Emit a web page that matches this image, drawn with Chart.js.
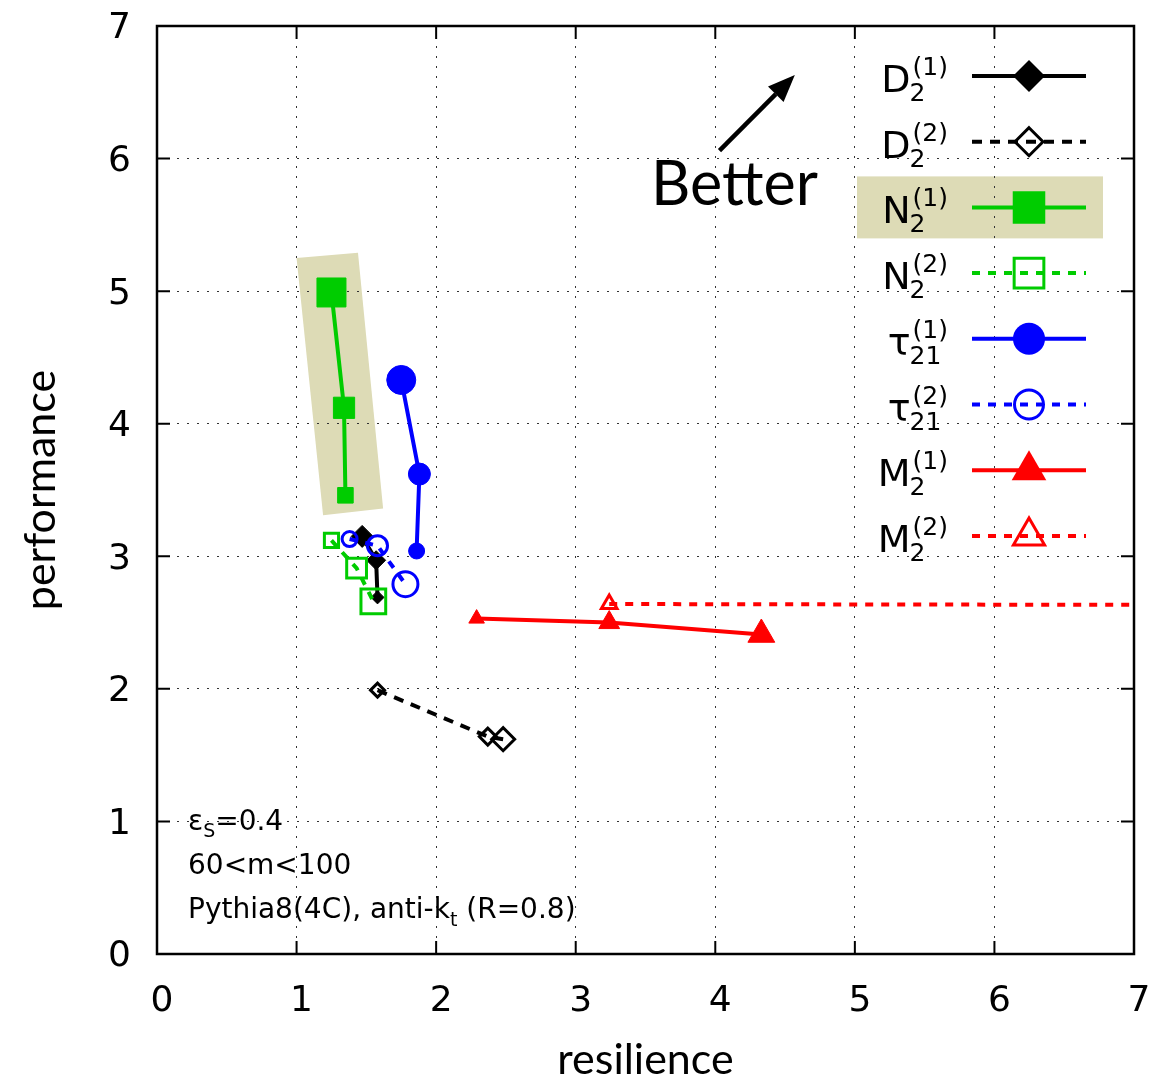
<!DOCTYPE html>
<html>
<head>
<meta charset="utf-8">
<script src="https://cdn.jsdelivr.net/npm/chart.js@4.4.1/dist/chart.umd.min.js"></script>
<style>
  html, body { margin: 0; padding: 0; background: #fff; }
  #wrap { width: 1173px; height: 1082px; }
</style>
</head>
<body>
<div id="wrap"><canvas id="chart" width="1173" height="1082"></canvas></div>
<script>
// Axis ticks
const xTicks = [0, 1, 2, 3, 4, 5, 6, 7];
const yTicks = [0, 1, 2, 3, 4, 5, 6, 7];

// Series values (resilience, performance)
const d2aX = [1.47, 1.57, 1.58];
const d2aY = [3.15, 2.97, 2.69];
const d2bX = [1.58, 2.37, 2.48];
const d2bY = [1.99, 1.64, 1.62];
const n2aX = [1.25, 1.34, 1.35];
const n2aY = [4.99, 4.12, 3.46];
const n2bX = [1.25, 1.43, 1.55];
const n2bY = [3.12, 2.91, 2.66];
const t21aX = [1.75, 1.88, 1.86];
const t21aY = [4.33, 3.62, 3.04];
const t21bX = [1.38, 1.58, 1.78];
const t21bY = [3.13, 3.08, 2.79];
const m2aX = [2.29, 3.24, 4.33];
const m2aY = [2.53, 2.50, 2.41];
const m2bX = [3.24, 9.0, 12.0];
const m2bY = [2.64, 2.63, 2.63];

// Highlight band around N2(1), in data coordinates
const boxX = [1.00, 1.44, 1.62, 1.19];
const boxY = [5.25, 5.29, 3.36, 3.31];

const HILITE = '#dddbb6';
const FONT = '"DejaVu Sans", sans-serif';
const TITLE_FONT = 'Lato, "Open Sans", sans-serif';

// Series styles
const series = [
    { main: 'D', sub: '2', sup: '(1)', xs: d2aX, ys: d2aY, color: '#000000', shape: 'rectRot', filled: true, dash: [], radii: [11, 9.5, 6.5], legR: 16 },
    { main: 'D', sub: '2', sup: '(2)', xs: d2bX, ys: d2bY, color: '#000000', shape: 'rectRot', filled: false, dash: [10, 8], radii: [7, 8.5, 11.5], legR: 14 },
    { main: 'N', sub: '2', sup: '(1)', xs: n2aX, ys: n2aY, color: '#00cc00', shape: 'rect', filled: true, dash: [], radii: [20.5, 15, 11], legR: 23 },
    { main: 'N', sub: '2', sup: '(2)', xs: n2bX, ys: n2bY, color: '#00cc00', shape: 'rect', filled: false, dash: [8, 8], radii: [10, 14, 17.5], legR: 21 },
    { main: 'τ', sub: '21', sup: '(1)', xs: t21aX, ys: t21aY, color: '#0000ff', shape: 'circle', filled: true, dash: [], radii: [14.5, 11, 8], legR: 16 },
    { main: 'τ', sub: '21', sup: '(2)', xs: t21bX, ys: t21bY, color: '#0000ff', shape: 'circle', filled: false, dash: [8, 8], radii: [7.5, 10, 12.5], legR: 14.5 },
    { main: 'M', sub: '2', sup: '(1)', xs: m2aX, ys: m2aY, color: '#ff0000', shape: 'triangle', filled: true, dash: [], radii: [9, 12, 15.5], legR: 20 },
    { main: 'M', sub: '2', sup: '(2)', xs: m2bX, ys: m2bY, color: '#ff0000', shape: 'triangle', filled: false, dash: [8, 8], radii: [9, 9, 9], legR: 18 }
];

// Marker for the key
function drawMarker(ctx, shape, cx, cy, r, filled, color) {
    ctx.beginPath();
    if (shape === 'circle') {
        ctx.arc(cx, cy, r, 0, Math.PI * 2);
    } else if (shape === 'rect') {
        const h = r * Math.SQRT1_2;
        ctx.rect(cx - h, cy - h, 2 * h, 2 * h);
    } else if (shape === 'rectRot') {
        ctx.moveTo(cx, cy - r); ctx.lineTo(cx + r, cy);
        ctx.lineTo(cx, cy + r); ctx.lineTo(cx - r, cy);
        ctx.closePath();
    } else {
        const s = Math.sin(Math.PI / 3) * r;
        ctx.moveTo(cx, cy - r); ctx.lineTo(cx + s, cy + r / 2);
        ctx.lineTo(cx - s, cy + r / 2);
        ctx.closePath();
    }
    if (filled) {
        ctx.fillStyle = color; ctx.fill();
    } else {
        ctx.strokeStyle = color; ctx.lineWidth = 3; ctx.setLineDash([]); ctx.stroke();
    }
}

const decor = {
    id: 'decor',
    beforeDraw(chart) {
        const { ctx, chartArea: a, scales: { x, y } } = chart;
        ctx.save();
        ctx.fillStyle = HILITE;
        // band around the N2(1) curve
        ctx.beginPath();
        boxX.forEach((bx, k) => {
            const px = x.getPixelForValue(bx), py = y.getPixelForValue(boxY[k]);
            k ? ctx.lineTo(px, py) : ctx.moveTo(px, py);
        });
        ctx.closePath();
        ctx.fill();
        // key row highlight
        const cy = a.top + 50 + 2 * 65.7;
        ctx.fillRect(a.right - 277, cy - 31, 246, 62);
        ctx.restore();
    },
    afterDatasetsDraw(chart) {
        const { ctx, chartArea: a, scales: { x, y } } = chart;
        ctx.save();

        // frame and inward ticks
        ctx.strokeStyle = '#000';
        ctx.lineWidth = 2;
        ctx.setLineDash([]);
        ctx.beginPath();
        xTicks.forEach(v => {
            const px = x.getPixelForValue(v);
            ctx.moveTo(px, a.bottom); ctx.lineTo(px, a.bottom - 13);
            ctx.moveTo(px, a.top); ctx.lineTo(px, a.top + 13);
        });
        yTicks.forEach(v => {
            const py = y.getPixelForValue(v);
            ctx.moveTo(a.left, py); ctx.lineTo(a.left + 13, py);
            ctx.moveTo(a.right, py); ctx.lineTo(a.right - 13, py);
        });
        ctx.stroke();
        ctx.lineWidth = 2.5;
        ctx.strokeRect(a.left, a.top, a.right - a.left, a.bottom - a.top);

        // key
        series.forEach((s, i) => {
            const cy = a.top + 50 + i * 65.7;
            const x0 = a.right - 162, x1 = a.right - 48, xm = (x0 + x1) / 2;
            ctx.strokeStyle = s.color;
            ctx.lineWidth = 4;
            ctx.setLineDash(s.dash);
            ctx.beginPath(); ctx.moveTo(x0, cy); ctx.lineTo(x1, cy); ctx.stroke();
            ctx.setLineDash([]);
            drawMarker(ctx, s.shape, xm, cy, s.legR, s.filled, s.color);

            ctx.fillStyle = '#000';
            ctx.textBaseline = 'alphabetic';
            ctx.textAlign = 'left';
            ctx.font = '38px ' + FONT;
            const mw = ctx.measureText(s.main).width;
            ctx.font = '25px ' + FONT;
            const ew = Math.max(ctx.measureText(s.sub).width, ctx.measureText(s.sup).width);
            const tx = a.right - 188 - mw - ew;
            ctx.font = '38px ' + FONT;
            ctx.fillText(s.main, tx, cy + 16);
            ctx.font = '25px ' + FONT;
            ctx.fillText(s.sub, tx + mw - 1, cy + 25);
            ctx.fillText(s.sup, tx + mw + 2, cy - 1);
        });

        // "Better" arrow
        const ax0 = x.getPixelForValue(4.03), ay0 = y.getPixelForValue(6.06);
        const ax1 = x.getPixelForValue(4.57), ay1 = y.getPixelForValue(6.63);
        const ang = Math.atan2(ay1 - ay0, ax1 - ax0);
        const hl = 27, hw = 11;
        const bx = ax1 - hl * Math.cos(ang), by = ay1 - hl * Math.sin(ang);
        ctx.strokeStyle = '#000';
        ctx.lineWidth = 4.5;
        ctx.beginPath(); ctx.moveTo(ax0, ay0); ctx.lineTo(bx, by); ctx.stroke();
        ctx.fillStyle = '#000';
        ctx.beginPath();
        ctx.moveTo(ax1, ay1);
        ctx.lineTo(bx + hw * Math.sin(ang), by - hw * Math.cos(ang));
        ctx.lineTo(bx - hw * Math.sin(ang), by + hw * Math.cos(ang));
        ctx.closePath(); ctx.fill();
        ctx.font = '61px ' + TITLE_FONT;
        ctx.fillText('Better', x.getPixelForValue(3.54), y.getPixelForValue(5.65));

        // run info, bottom left
        const lx = a.left + 31;
        let cx = lx;
        ctx.font = '28px ' + FONT;
        ctx.fillText('ε', cx, a.bottom - 124); cx += ctx.measureText('ε').width;
        ctx.font = '19px ' + FONT;
        ctx.fillText('S', cx, a.bottom - 117); cx += ctx.measureText('S').width;
        ctx.font = '28px ' + FONT;
        ctx.fillText('=0.4', cx, a.bottom - 124);
        ctx.fillText('60<m<100', lx, a.bottom - 80);
        cx = lx;
        ctx.fillText('Pythia8(4C), anti-k', cx, a.bottom - 36); cx += ctx.measureText('Pythia8(4C), anti-k').width;
        ctx.font = '19px ' + FONT;
        ctx.fillText('t', cx, a.bottom - 28); cx += ctx.measureText('t').width;
        ctx.font = '28px ' + FONT;
        ctx.fillText(' (R=0.8)', cx, a.bottom - 36);

        ctx.restore();
    }
};

const ctx = document.getElementById('chart').getContext('2d');
new Chart(ctx, {
    type: 'scatter',
    data: {
        datasets: series.map((s, i) => ({
            label: s.main + s.sub + s.sup,
            data: s.xs.map((v, k) => ({ x: v, y: s.ys[k] })),
            showLine: true,
            borderColor: s.color,
            borderWidth: 4,
            borderDash: s.dash,
            pointStyle: s.shape,
            pointRadius: s.radii,
            pointHoverRadius: s.radii,
            pointBorderWidth: s.filled ? 1 : 3,
            pointBorderColor: s.color,
            pointBackgroundColor: s.filled ? s.color : 'rgba(0,0,0,0)',
            clip: 0,
            order: series.length - i
        }))
    },
    options: {
        responsive: false,
        animation: false,
        events: [],
        layout: { padding: { top: 26, right: 39, left: 0, bottom: 0 } },
        plugins: { legend: { display: false }, tooltip: { enabled: false } },
        scales: {
            x: {
                type: 'linear', min: 0, max: 7,
                afterBuildTicks: s => { s.ticks = xTicks.map(v => ({ value: v })); },
                afterFit: s => { s.height = 128; s.paddingLeft = 0; s.paddingRight = 0; },
                grid: { color: '#333', lineWidth: 1, drawTicks: false },
                border: { display: false, dash: [2, 8] },
                ticks: { color: '#000', font: { family: FONT, size: 36 }, padding: 26, labelOffset: 5, autoSkip: false, maxRotation: 0 },
                title: { display: true, text: 'resilience', color: '#000', font: { family: TITLE_FONT, size: 43, lineHeight: 1 }, padding: { bottom: 0 } }
            },
            y: {
                type: 'linear', min: 0, max: 7,
                afterBuildTicks: s => { s.ticks = yTicks.map(v => ({ value: v })); },
                afterFit: s => { s.width = 157; s.paddingTop = 0; s.paddingBottom = 0; },
                grid: { color: '#333', lineWidth: 1, drawTicks: false },
                border: { display: false, dash: [2, 8] },
                ticks: { color: '#000', font: { family: FONT, size: 36 }, padding: 26, labelOffset: 3, autoSkip: false },
                title: { display: true, text: 'performance', color: '#000', font: { family: TITLE_FONT, size: 43, lineHeight: 1 }, padding: { top: 20 } }
            }
        }
    },
    plugins: [decor]
});
</script>
</body>
</html>
